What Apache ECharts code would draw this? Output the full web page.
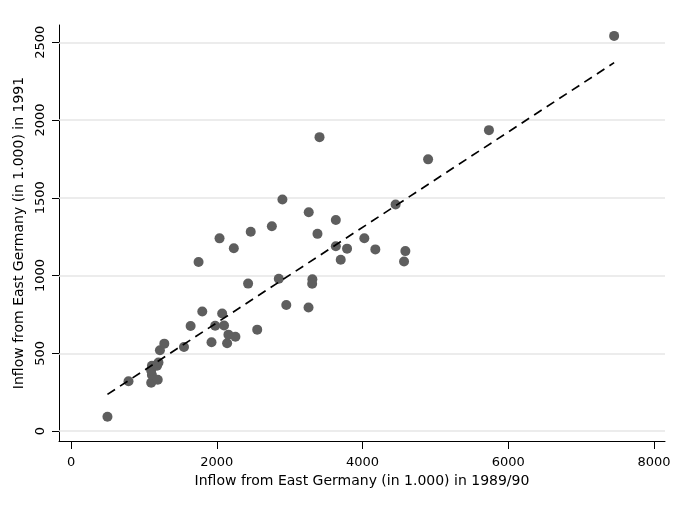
<!DOCTYPE html>
<html>
<head>
<meta charset="utf-8">
<script src="https://cdn.jsdelivr.net/npm/echarts@6/dist/echarts.min.js"></script>
<style>html,body{margin:0;padding:0;background:#fff}#c{width:675px;height:506px}</style>
</head>
<body>
<div id="c"></div>
<script>
// Inflow from East Germany (in 1.000), 1989/90 vs 1991
const inflow8990 = [500, 789, 1100, 1110, 1100, 1110, 1190, 1180, 1200, 1220, 1280, 1550, 1641, 1750, 1801, 1928, 1978, 2038, 2074, 2100, 2142, 2160, 2256, 2234, 2430, 2466, 2555, 2756, 2851, 2901, 2954, 3262, 3259, 3312, 3309, 3382, 3410, 3634, 3634, 3701, 3788, 4025, 4176, 4454, 4588, 4570, 4900, 5735, 7453];
const inflow1991 = [92, 320, 310, 360, 390, 420, 330, 420, 440, 520, 562, 541, 676, 1087, 769, 571, 677, 1239, 756, 679, 565, 620, 606, 1175, 948, 1281, 652, 1317, 979, 1489, 810, 1407, 795, 976, 947, 1268, 1890, 1357, 1188, 1102, 1173, 1240, 1168, 1457, 1157, 1090, 1747, 1935, 2541];
const fitX = [500, 7453];
const fitY = [236, 2369];
const xTicks = [0, 2000, 4000, 6000, 8000];
const yTicks = [0, 500, 1000, 1500, 2000, 2500];
const xTitle = 'Inflow from East Germany (in 1.000) in 1989/90';
const yTitle = 'Inflow from East Germany (in 1.000) in 1991';

const FONT = 'DejaVu Sans';
const chart = echarts.init(document.getElementById('c'), null, {renderer: 'canvas'});
chart.setOption({
  animation: false,
  backgroundColor: '#ffffff',
  grid: {left: 59, right: 10, top: 25, bottom: 65, containLabel: false},
  xAxis: {
    type: 'value', min: -165, max: 8151,
    name: xTitle, nameLocation: 'middle', nameGap: 31,
    nameTextStyle: {fontFamily: FONT, fontSize: 14, color: '#000'},
    axisLine: {show: true, onZero: false, lineStyle: {color: '#000', width: 1}},
    axisTick: {show: true, customValues: xTicks, length: 8, lineStyle: {color: '#000', width: 1}},
    axisLabel: {customValues: xTicks, margin: 15, fontFamily: FONT, fontSize: 13, color: '#000', formatter: v => String(v)},
    splitLine: {show: false}
  },
  yAxis: {
    type: 'value', min: -64, max: 2611,
    name: yTitle, nameLocation: 'middle', nameGap: 32, nameRotate: 90,
    nameTextStyle: {fontFamily: FONT, fontSize: 14, color: '#000'},
    axisLine: {show: true, onZero: false, lineStyle: {color: '#000', width: 1}},
    axisTick: {show: true, customValues: yTicks, length: 7, lineStyle: {color: '#000', width: 1}},
    axisLabel: {customValues: yTicks, rotate: 90, margin: 12, fontFamily: FONT, fontSize: 13, color: '#000', formatter: v => String(v)},
    splitLine: {show: false}
  },
  series: [
    {
      type: 'scatter', data: [], z: 0, zlevel: 0, silent: true,
      markLine: {
        silent: true, symbol: ['none', 'none'], label: {show: false},
        lineStyle: {color: '#e6e6e6', width: 1.5, type: 'solid'},
        data: yTicks.map(v => ({yAxis: v}))
      }
    },
    {
      type: 'scatter', z: 2, zlevel: 1,
      symbol: 'circle', symbolSize: 10,
      itemStyle: {color: '#5e5e5e', opacity: 1},
      data: inflow8990.map((x, i) => [x, inflow1991[i]])
    },
    {
      type: 'line', z: 3, zlevel: 1, symbol: 'none',
      lineStyle: {color: '#000', width: 1.7, type: [9, 6]},
      data: fitX.map((x, i) => [x, fitY[i]])
    }
  ]
});
</script>
</body>
</html>
